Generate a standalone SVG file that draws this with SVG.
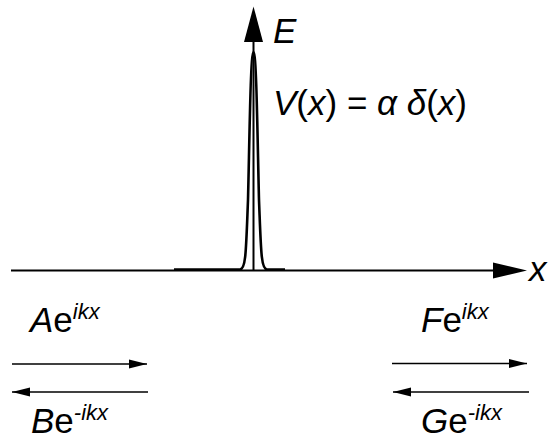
<svg xmlns="http://www.w3.org/2000/svg" width="548" height="440" viewBox="0 0 548 440">
<style>
.t{font-family:"Liberation Sans",Arial,sans-serif;font-size:35px;fill:#000}
.i{font-style:italic}
.sup{font-size:22px;font-style:italic}
.ax{stroke:#000;stroke-width:2;fill:none}
.arr{stroke:#000;stroke-width:1.6;fill:none;marker-end:url(#ah)}
</style>
<defs>
<marker id="ah" markerUnits="userSpaceOnUse" markerWidth="20" markerHeight="10" refX="18" refY="5" orient="auto">
<path d="M0,0.5 L18,5 L0,9.5 Z" fill="#000"/>
</marker>
</defs>
<rect width="548" height="440" fill="#fff"/>
<g id="connectors">
<g id="x-axis">
<line class="ax" x1="11" y1="270.5" x2="496" y2="270.5"/>
<polygon points="493,262.5 527,270.5 493,278.5" fill="#000"/>
</g>
<g id="e-axis">
<line class="ax" x1="253.5" y1="270" x2="253.5" y2="40"/>
<polygon points="253.5,6.5 263,42 244,42" fill="#000"/>
</g>
<line class="arr" x1="12" y1="364" x2="147" y2="364"/>
<line class="arr" x1="148" y1="392" x2="12" y2="392"/>
<line class="arr" x1="392" y1="363.5" x2="527" y2="363.5"/>
<line class="arr" x1="529" y1="392" x2="393" y2="392"/>
</g>
<g id="potential">
<path d="M174,269.5 L240,269.5 C246,269.5 246,250 248,200 C249.5,140 250.5,52 253.5,52 C256.5,52 257.5,140 259,200 C261,250 261,269.5 267,269.5 L285,269.5" stroke="#000" stroke-width="2.6" fill="none"/>
</g>
<g id="label-E"><text class="t i" x="273" y="43">E</text></g>
<g id="label-x"><text class="t i" x="529" y="281">x</text></g>
<g id="label-V"><text class="t" x="273" y="115"><tspan class="i">V</tspan>(<tspan class="i">x</tspan>) = <tspan class="i">α δ</tspan>(<tspan class="i">x</tspan>)</text></g>
<g id="label-A"><text class="t" x="30" y="332"><tspan class="i">A</tspan>e<tspan class="sup" dy="-13">ikx</tspan></text></g>
<g id="label-B"><text class="t" x="31" y="433"><tspan class="i">B</tspan>e<tspan class="sup" dy="-13">-ikx</tspan></text></g>
<g id="label-F"><text class="t" x="421" y="332"><tspan class="i">F</tspan>e<tspan class="sup" dy="-13">ikx</tspan></text></g>
<g id="label-G"><text class="t" x="421" y="433"><tspan class="i">G</tspan>e<tspan class="sup" dy="-13">-ikx</tspan></text></g>
</svg>
